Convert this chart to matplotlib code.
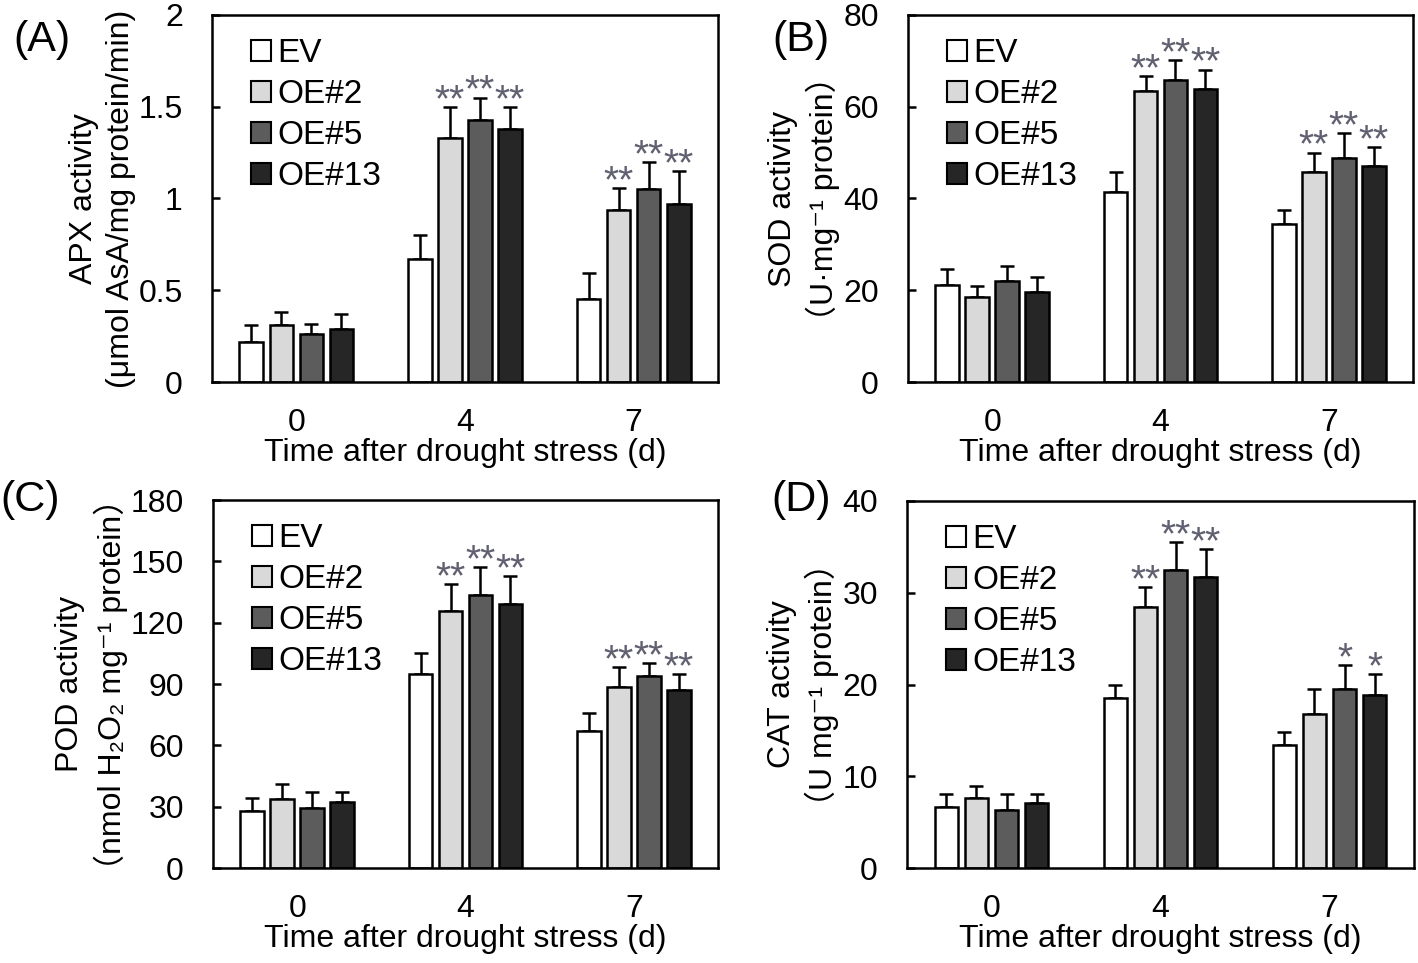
import numpy as np
import matplotlib
matplotlib.use("Agg")
import matplotlib.pyplot as plt
from matplotlib.patches import Patch

plt.rcParams['font.family'] = ['Liberation Sans', 'DejaVu Sans', 'Noto Sans CJK SC']

days = ['0', '4', '7']
lines = ['EV', 'OE#2', 'OE#5', 'OE#13']
colors = ['#ffffff', '#d9d9d9', '#5c5c5c', '#262626']

# APX activity (A)
apx_mean = {'EV': [0.22, 0.67, 0.45], 'OE#2': [0.31, 1.33, 0.94],
            'OE#5': [0.26, 1.43, 1.05], 'OE#13': [0.29, 1.38, 0.97]}
apx_err = {'EV': [0.09, 0.13, 0.145], 'OE#2': [0.07, 0.17, 0.115],
           'OE#5': [0.056, 0.12, 0.15], 'OE#13': [0.078, 0.12, 0.18]}
apx_sig = {'EV': ['', '', ''], 'OE#2': ['', '**', '**'],
           'OE#5': ['', '**', '**'], 'OE#13': ['', '**', '**']}

# SOD activity (B)
sod_mean = {'EV': [21.2, 41.5, 34.5], 'OE#2': [18.6, 63.5, 45.7],
            'OE#5': [22.0, 65.8, 48.9], 'OE#13': [19.6, 63.8, 47.0]}
sod_err = {'EV': [3.4, 4.2, 3.0], 'OE#2': [2.3, 3.2, 4.3],
           'OE#5': [3.2, 4.4, 5.3], 'OE#13': [3.3, 4.3, 4.3]}
sod_sig = apx_sig

# POD activity (C)
pod_mean = {'EV': [28.0, 94.7, 67.1], 'OE#2': [33.7, 125.9, 88.5],
            'OE#5': [29.3, 133.7, 93.9], 'OE#13': [32.1, 129.3, 86.9]}
pod_err = {'EV': [6.0, 10.6, 8.6], 'OE#2': [7.3, 13.0, 9.8],
           'OE#5': [8.0, 13.3, 6.2], 'OE#13': [5.2, 13.3, 8.1]}
pod_sig = apx_sig

# CAT activity (D)
cat_mean = {'EV': [6.6, 18.5, 13.4], 'OE#2': [7.6, 28.4, 16.8],
            'OE#5': [6.3, 32.5, 19.5], 'OE#13': [7.1, 31.7, 18.9]}
cat_err = {'EV': [1.45, 1.45, 1.45], 'OE#2': [1.3, 2.2, 2.7],
           'OE#5': [1.8, 3.0, 2.6], 'OE#13': [1.0, 3.1, 2.2]}
cat_sig = {'EV': ['', '', ''], 'OE#2': ['', '**', ''],
           'OE#5': ['', '**', '*'], 'OE#13': ['', '**', '*']}

W, H = 1418, 963
fig = plt.figure(figsize=(W / 100, H / 100), dpi=100)


def rect(l, t, r, b):
    return [l / W, 1 - b / H, (r - l) / W, (b - t) / H]


def draw_panel(box, means, errs, sig, ymax, ystep, ylabel, tag, tagpos):
    ax = fig.add_axes(rect(*box))
    x = np.arange(len(days))
    step, width = 0.178, 0.14
    for i, name in enumerate(lines):
        pos = x + (i - 1.5) * step
        m = np.array(means[name])
        e = np.array(errs[name])
        ax.bar(pos, m, width, color=colors[i], edgecolor='black', linewidth=1.8, zorder=2)
        ax.errorbar(pos, m, yerr=[np.zeros_like(e), e], fmt='none', ecolor='black',
                    elinewidth=1.8, capsize=5, capthick=1.8, zorder=1)
        for j in range(len(days)):
            if sig[name][j]:
                ax.annotate(sig[name][j], xy=(pos[j], m[j] + e[j]), xytext=(0, -3),
                            textcoords='offset points', ha='center', va='baseline',
                            fontsize=28, color='#606070')
    ax.set_xlim(-0.5, 2.5)
    ax.set_ylim(0, ymax)
    ax.set_yticks(np.arange(0, ymax + ystep / 2, ystep))
    ax.set_xticks(x)
    ax.set_xticklabels(days)
    ax.tick_params(axis='y', direction='in', length=6, width=1.8, pad=21, labelsize=23)
    ax.tick_params(axis='x', length=0, pad=19, labelsize=23)
    ax.yaxis.set_major_formatter(plt.FuncFormatter(lambda v, p: f'{v:g}'))
    for s in ax.spines.values():
        s.set_linewidth(1.8)
    ax.set_xlabel('Time after drought stress (d)', fontsize=23, labelpad=0)
    ax.set_ylabel(ylabel, fontsize=23, labelpad=2, linespacing=1.3)
    handles = [Patch(facecolor=c, edgecolor='black', linewidth=1.5) for c in colors]
    ax.legend(handles, lines, loc='upper left', bbox_to_anchor=(0.077, 0.937),
              frameon=False, fontsize=24, handlelength=0.6, handleheight=0.6,
              handletextpad=0.2, labelspacing=0.3, borderpad=0, borderaxespad=0)
    fig.text(tagpos[0] / W, 1 - tagpos[1] / H, tag, fontsize=31, ha='center', va='center')
    return ax


draw_panel((212, 15, 718, 382), apx_mean, apx_err, apx_sig, 2, 0.5,
           'APX activity\n(μmol AsA/mg protein/min)', '(A)', (42, 40))
draw_panel((908, 15, 1413, 382), sod_mean, sod_err, sod_sig, 80, 20,
           'SOD activity\n（U·mg⁻¹ protein）', '(B)', (801, 40))
draw_panel((213, 500, 718, 868), pod_mean, pod_err, pod_sig, 180, 30,
           'POD activity\n（nmol H₂O₂ mg⁻¹ protein）', '(C)', (30, 500))
draw_panel((907, 501, 1414, 868), cat_mean, cat_err, cat_sig, 40, 10,
           'CAT activity\n（U mg⁻¹ protein）', '(D)', (801, 500))

fig.savefig('out.png', dpi=100)
